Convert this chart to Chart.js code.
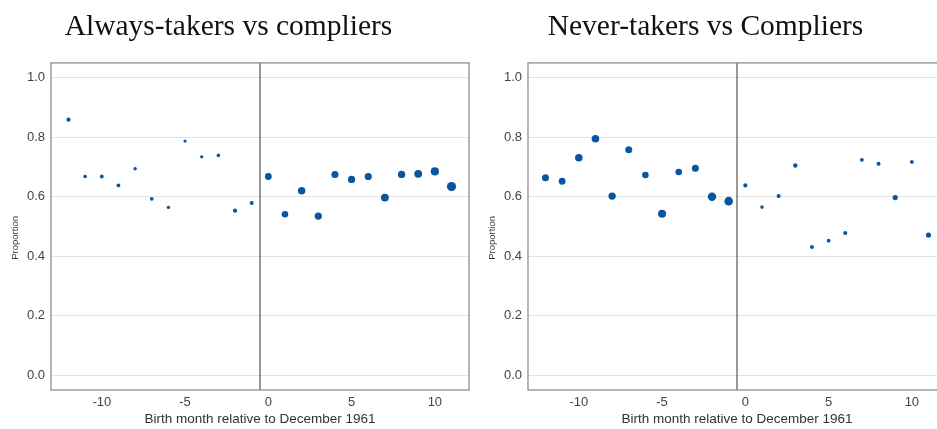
<!DOCTYPE html>
<html>
<head>
<meta charset="utf-8">
<script src="https://cdn.jsdelivr.net/npm/chart.js@4.4.1/dist/chart.umd.min.js"></script>
<style>
    html, body { margin: 0; padding: 0; background: #fff; overflow: hidden; }
    body { position: relative; width: 937px; height: 429px; }
    .panel { position: absolute; top: 0; width: 470px; height: 429px; }
    #panelA { left: 0; }
    #panelN { left: 477px; }
</style>
</head>
<body>
<div class="panel" id="panelA"><canvas id="chartA"></canvas></div>
<div class="panel" id="panelN"><canvas id="chartN"></canvas></div>
<script>
// 출생월 (1961년 12월 기준)
var months = [-12, -11, -10, -9, -8, -7, -6, -5, -4, -3, -2, -1, 0, 1, 2, 3, 4, 5, 6, 7, 8, 9, 10, 11];

// Always-takers vs compliers
var alwaysProp = [0.859, 0.668, 0.668, 0.638, 0.694, 0.593, 0.564, 0.787, 0.734, 0.739, 0.553, 0.579,
                  0.668, 0.541, 0.620, 0.535, 0.675, 0.658, 0.668, 0.597, 0.675, 0.677, 0.685, 0.634];
var alwaysWeight = [4.4, 3.2, 3.6, 3.6, 2.9, 3.6, 2.9, 2.6, 2.9, 3.2, 4.4, 4.0,
                    11.6, 10.9, 13.7, 13.0, 12.3, 13.0, 13.0, 15.2, 13.7, 15.2, 16.8, 21.2];

// Never-takers vs Compliers
var neverProp = [0.664, 0.652, 0.731, 0.795, 0.602, 0.758, 0.673, 0.543, 0.683, 0.696, 0.600, 0.585,
                 0.638, 0.565, 0.602, 0.705, 0.431, 0.452, 0.478, 0.724, 0.711, 0.597, 0.717, 0.471];
var neverWeight = [12.3, 11.6, 14.4, 14.4, 13.7, 12.3, 10.9, 16.0, 10.9, 12.3, 17.6, 18.5,
                   4.4, 3.2, 4.0, 4.8, 4.0, 3.6, 4.4, 3.6, 4.0, 6.8, 3.6, 6.8];

var xTicks = [-10, -5, 0, 5, 10];
var yTicks = [0.0, 0.2, 0.4, 0.6, 0.8, 1.0];
var cutoff = -0.5;
var yLabel = 'Proportion';
var xLabel = 'Birth month relative to December 1961';

var dotColor = '#0a55a0';
var sansFont = "'Liberation Sans', Arial, sans-serif";
var serifFont = "'Liberation Serif', 'Times New Roman', serif";

// 플롯 영역 테두리
var framePlugin = {
    id: 'frame',
    afterDraw: function(chart) {
        var a = chart.chartArea, ctx = chart.ctx;
        ctx.save();
        ctx.strokeStyle = '#858585';
        ctx.lineWidth = 1.2;
        ctx.strokeRect(a.left, a.top, a.right - a.left, a.bottom - a.top);
        ctx.restore();
    }
};

// 제목 위치 보정
var titleShiftPlugin = {
    id: 'titleShift',
    afterLayout: function(chart, args, opts) {
        var t = chart.titleBlock;
        if (t) { t.left += opts.dx; t.right += opts.dx; }
    }
};

// y축 제목 (세로)
var yLabelPlugin = {
    id: 'yLabel',
    afterDraw: function(chart, args, opts) {
        var a = chart.chartArea, ctx = chart.ctx;
        ctx.save();
        ctx.translate(opts.x, (a.top + a.bottom) / 2 + opts.dy);
        ctx.rotate(-Math.PI / 2);
        ctx.fillStyle = opts.color;
        ctx.font = opts.size + 'px ' + sansFont;
        ctx.textAlign = 'center';
        ctx.textBaseline = 'middle';
        ctx.fillText(opts.text, 0, 0);
        ctx.restore();
    }
};

function drawPanel(canvasId, title, props, weights) {
    var points = months.map(function(m, i) { return {x: m, y: props[i]}; });
    var radii = weights.map(function(w) { return Math.sqrt(w); });

    return new Chart(document.getElementById(canvasId), {
        type: 'scatter',
        data: {
            datasets: [{
                data: points,
                backgroundColor: dotColor,
                borderWidth: 0,
                pointRadius: radii,
                pointHoverRadius: radii
            }, {
                type: 'line',
                data: [{x: cutoff, y: -0.05}, {x: cutoff, y: 1.05}],
                borderColor: '#555555',
                borderWidth: 1.2,
                pointRadius: 0,
                fill: false
            }]
        },
        options: {
            responsive: true,
            maintainAspectRatio: false,
            animation: false,
            events: [],
            layout: { autoPadding: false, padding: { top: 0, right: 1, bottom: 0, left: 0 } },
            plugins: {
                legend: { display: false },
                tooltip: { enabled: false },
                title: {
                    display: true,
                    text: title,
                    color: '#111111',
                    font: { family: serifFont, size: 29.5, weight: 'normal' },
                    padding: { top: 10, bottom: 17.5 }
                },
                titleShift: { dx: -6 },
                yLabel: { text: yLabel, x: 15.5, dy: 11.5, size: 9.5, color: '#333333' }
            },
            scales: {
                x: {
                    type: 'linear',
                    min: -13.05,
                    max: 12.05,
                    afterBuildTicks: function(s) { s.ticks = xTicks.map(function(v) { return {value: v}; }); },
                    afterFit: function(s) { s.height = 39; s.paddingLeft = 0; s.paddingRight = 0; },
                    grid: { display: false, drawTicks: false },
                    border: { display: false },
                    ticks: { color: '#444444', padding: 5, font: { family: sansFont, size: 13 } },
                    title: {
                        display: true,
                        text: xLabel,
                        color: '#333333',
                        font: { family: sansFont, size: 13.5 },
                        padding: { top: 0, bottom: 2 }
                    }
                },
                y: {
                    min: -0.05,
                    max: 1.05,
                    afterBuildTicks: function(s) { s.ticks = yTicks.map(function(v) { return {value: v}; }); },
                    afterFit: function(s) { s.width = 51; s.paddingTop = 0; s.paddingBottom = 0; },
                    grid: { color: '#e2e2e2', lineWidth: 1, drawTicks: false },
                    border: { display: false },
                    ticks: {
                        color: '#444444',
                        padding: 6,
                        font: { family: sansFont, size: 13 },
                        callback: function(v) { return Number(v).toFixed(1); }
                    },
                    title: { display: false }
                }
            }
        },
        plugins: [framePlugin, titleShiftPlugin, yLabelPlugin]
    });
}

drawPanel('chartA', 'Always-takers vs compliers', alwaysProp, alwaysWeight);
drawPanel('chartN', 'Never-takers vs Compliers', neverProp, neverWeight);
</script>
</body>
</html>
